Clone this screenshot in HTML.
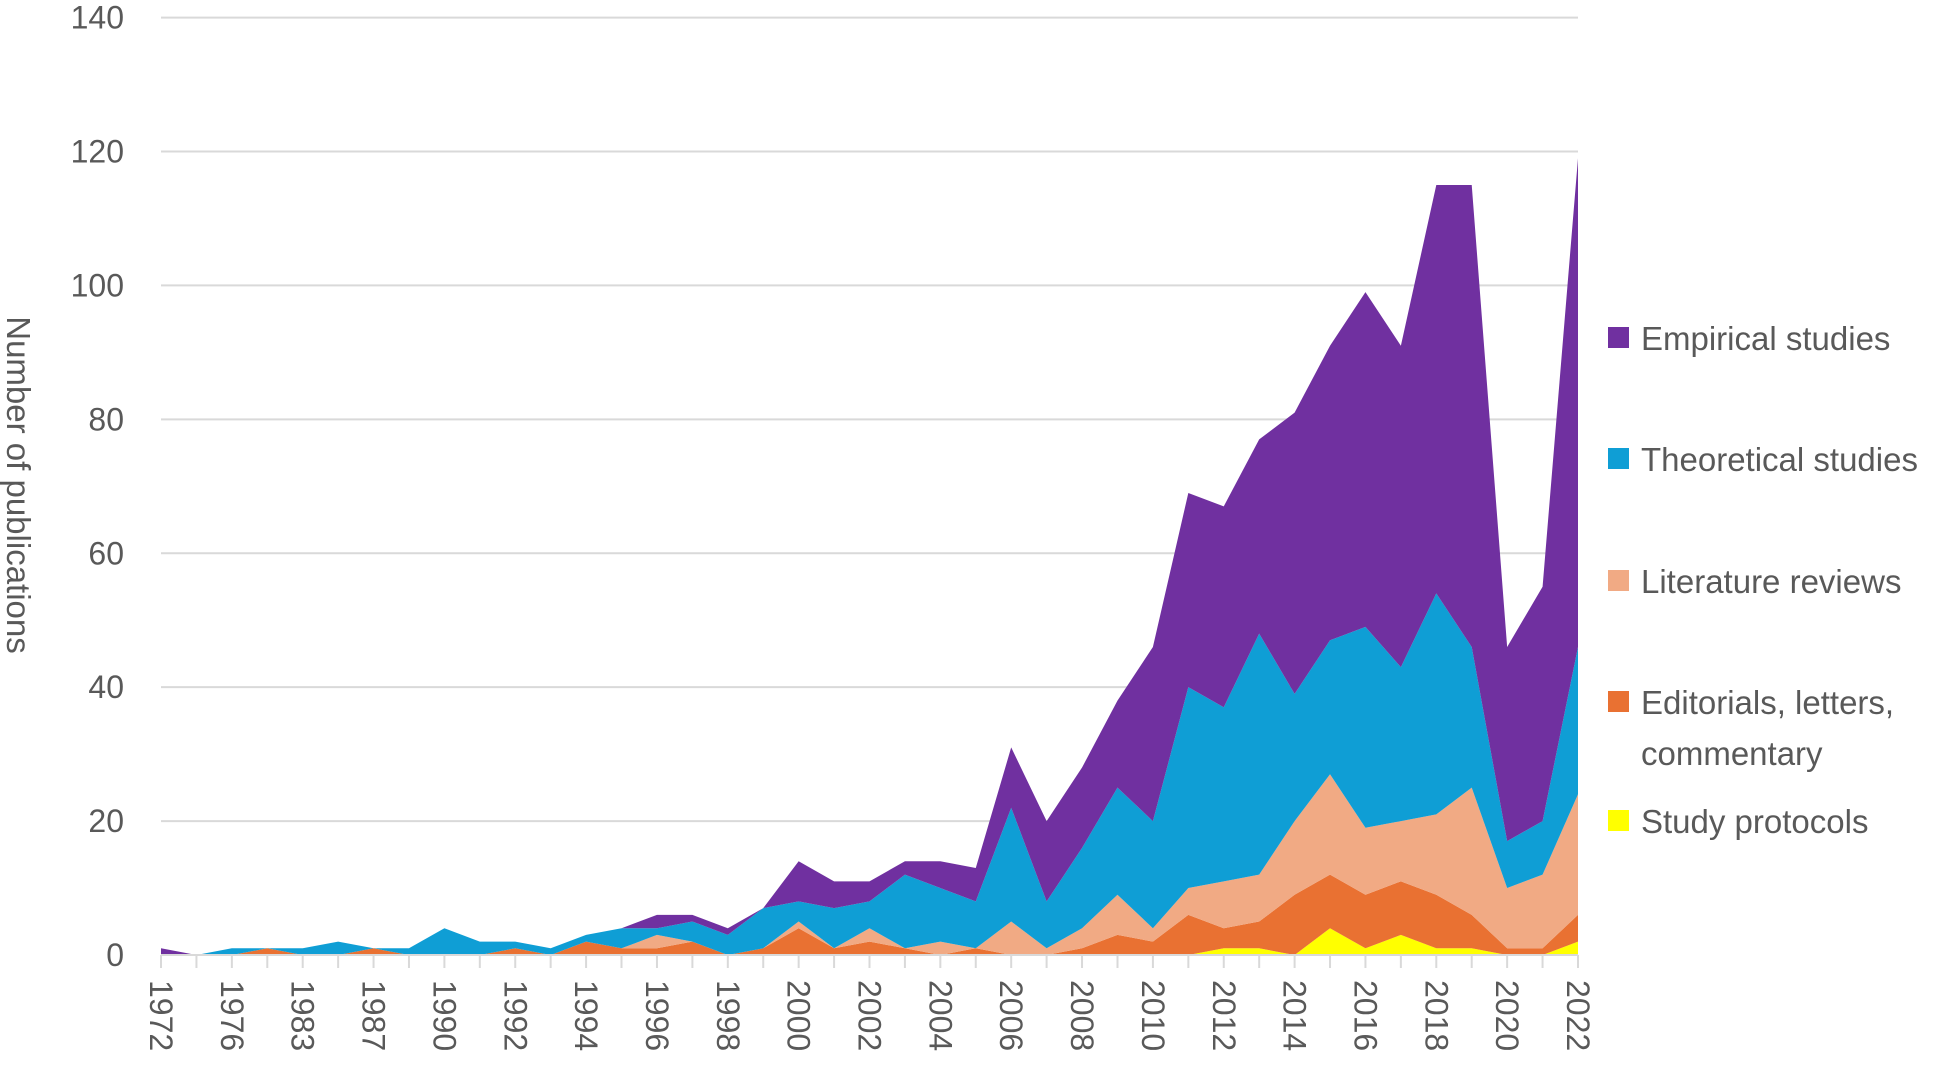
<!DOCTYPE html>
<html><head><meta charset="utf-8"><style>
html,body{margin:0;padding:0;background:#fff;}
svg text{font-family:"Liberation Sans",sans-serif;fill:#595959;}
</style></head><body>
<svg id="chart" width="1948" height="1065" viewBox="0 0 1948 1065" xmlns="http://www.w3.org/2000/svg">
<g id="grid"></g>
<g id="areas"></g>
<g id="xaxis"></g>
<g id="yaxis"></g>
<text transform="translate(7,485) rotate(90)" text-anchor="middle" font-size="33">Number of publications</text>
<g id="legend"></g>
</svg>
<script>
const categories = ["1972","1974","1976","1978","1983","1984","1987","1988","1990","1991","1992","1993","1994","1995","1996","1997","1998","1999","2000","2001","2002","2003","2004","2005","2006","2007","2008","2009","2010","2011","2012","2013","2014","2015","2016","2017","2018","2019","2020","2021","2022"];
const tickLabels = ["1972","","1976","","1983","","1987","","1990","","1992","","1994","","1996","","1998","","2000","","2002","","2004","","2006","","2008","","2010","","2012","","2014","","2016","","2018","","2020","","2022"];
const yTicks = [0,20,40,60,80,100,120,140];
const studyProtocols = [0,0,0,0,0,0,0,0,0,0,0,0,0,0,0,0,0,0,0,0,0,0,0,0,0,0,0,0,0,0,1,1,0,4,1,3,1,1,0,0,2];
const editorials =     [0,0,0,1,0,0,1,0,0,0,1,0,2,1,1,2,0,1,4,1,2,1,0,1,0,0,1,3,2,6,3,4,9,8,8,8,8,5,1,1,4];
const literature =     [0,0,0,0,0,0,0,0,0,0,0,0,0,0,2,0,0,0,1,0,2,0,2,0,5,1,3,6,2,4,7,7,11,15,10,9,12,19,9,11,18];
const theoretical =    [0,0,1,0,1,2,0,1,4,2,1,1,1,3,1,3,3,6,3,6,4,11,8,7,17,7,12,16,16,30,26,36,19,20,30,23,33,21,7,8,22];
const empirical =      [1,0,0,0,0,0,0,0,0,0,0,0,0,0,2,1,1,0,6,4,3,2,4,5,9,12,12,13,26,29,30,29,42,44,50,48,61,69,29,35,73];
const seriesNames = ["Study protocols","Editorials, letters, commentary","Literature reviews","Theoretical studies","Empirical studies"];
const seriesKeys = ["study-protocols","editorials","literature-reviews","theoretical-studies","empirical-studies"];
const seriesColors = ["#FFFF00","#E97132","#F1AA84","#0F9ED5","#7030A0"];
const seriesData = [studyProtocols, editorials, literature, theoretical, empirical];

const NS="http://www.w3.org/2000/svg";
const X0=161, X1=1578, Y0=955, YTOP=17.6, YMAX=140;
const xs = i => X0 + i*(X1-X0)/(categories.length-1);
const ys = v => Y0 - v*(Y0-YTOP)/YMAX;
function mk(tag, attrs, parent){const e=document.createElementNS(NS,tag);for(const k in attrs)e.setAttribute(k,attrs[k]);parent.appendChild(e);return e;}

const grid=document.getElementById('grid'), yaxis=document.getElementById('yaxis');
yTicks.forEach(t=>{
  if(t>0){const l=mk('line',{x1:X0,x2:X1,y1:ys(t),y2:ys(t),stroke:'#d9d9d9','stroke-width':2},grid);
  
  }
  const tx=mk('text',{x:124,y:ys(t)+11,'text-anchor':'end','font-size':32},yaxis);
  tx.textContent=t;
  
  
});

const areas=document.getElementById('areas');
let base=categories.map(()=>0);
seriesData.forEach((arr,s)=>{
  const top=arr.map((v,i)=>base[i]+v);
  let d='M'+xs(0)+','+ys(top[0]);
  for(let i=1;i<top.length;i++) d+='L'+xs(i)+','+ys(top[i]);
  for(let i=top.length-1;i>=0;i--) d+='L'+xs(i)+','+ys(base[i]);
  d+='Z';
  const p=mk('path',{d:d,fill:seriesColors[s]},areas);
  
  
  base=top;
});

const xaxis=document.getElementById('xaxis');
const ax=mk('line',{x1:X0,x2:X1,y1:Y0,y2:Y0,stroke:'#d9d9d9','stroke-width':2},xaxis);


categories.forEach((c,i)=>{
  const tk=mk('line',{x1:xs(i),x2:xs(i),y1:Y0,y2:Y0+13,stroke:'#d9d9d9','stroke-width':2},xaxis);
  
  
  if(tickLabels[i]){
    const t=mk('text',{transform:'translate('+(xs(i)-11)+',980) rotate(90)','font-size':32},xaxis);
    t.textContent=tickLabels[i];
    
    
  }
});

const legend=document.getElementById('legend');
const legendY=[821,702,581,459,338];
seriesNames.forEach((n,s)=>{
  const g=mk('g',{},legend);
  
  
  mk('rect',{x:1608,y:legendY[s]-11,width:21,height:21,fill:seriesColors[s]},g);
  if(s===1){
    const t1=mk('text',{x:1641,y:legendY[s]+12,'font-size':33},g); t1.textContent='Editorials, letters,';
    const t2=mk('text',{x:1641,y:legendY[s]+63,'font-size':33},g); t2.textContent='commentary';
  } else {
    const t=mk('text',{x:1641,y:legendY[s]+12,'font-size':33},g); t.textContent=n;
  }
});
</script>
</body></html>
